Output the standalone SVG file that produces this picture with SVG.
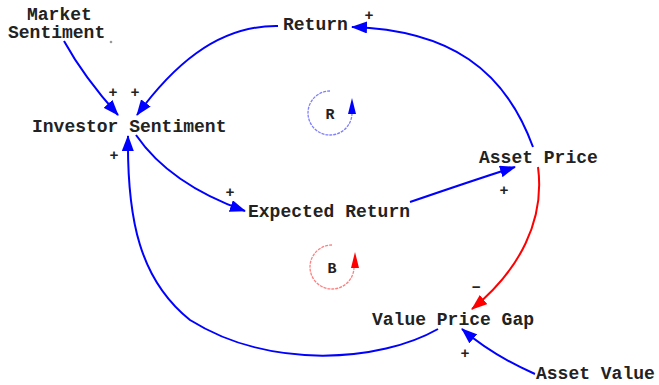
<svg xmlns="http://www.w3.org/2000/svg" width="659" height="385" viewBox="0 0 659 385">
<defs>
<marker id="ab" markerWidth="16" markerHeight="12" refX="15" refY="6" orient="auto" markerUnits="userSpaceOnUse"><path d="M0,0 L16,6 L0,12 z" fill="#0000ff"/></marker>
<marker id="ar" markerWidth="16" markerHeight="12" refX="15" refY="6" orient="auto" markerUnits="userSpaceOnUse"><path d="M0,0 L16,6 L0,12 z" fill="#ff0000"/></marker>
</defs>
<style>
.t{font-family:"Liberation Mono","Courier New",monospace;font-size:18px;font-weight:bold;fill:#222}
.s{font-family:"Liberation Mono","Courier New",monospace;font-size:15px;font-weight:bold;fill:#222;text-anchor:middle}
.c{fill:none;stroke:#0000ff;stroke-width:2}
.cr{fill:none;stroke:#ff0000;stroke-width:2}
</style>
<rect width="659" height="385" fill="#ffffff"/>
<g id="connectors">
<path class="c" d="M64,41 C80,70 100,95 118,115" marker-end="url(#ab)"/>
<path class="c" d="M278,26 C215,25 170,70 137,115" marker-end="url(#ab)"/>
<path class="c" d="M533,147 C505,70 450,30 352,27" marker-end="url(#ab)"/>
<path class="c" d="M136,135 C160,170 200,195 245,211" marker-end="url(#ab)"/>
<path class="c" d="M410,202 C445,190 480,178 515,167" marker-end="url(#ab)"/>
<path class="cr" d="M538,167 C545,220 520,270 472,309" marker-end="url(#ar)"/>
<path class="c" d="M438,329 C380,362 270,370 190,320 C140,280 127,220 128,136" marker-end="url(#ab)"/>
<path class="c" d="M535,374 C510,363 485,349 462,329" marker-end="url(#ab)"/>
</g>
<g id="signs">
<text class="s" x="113" y="97">+</text>
<text class="s" x="135" y="97">+</text>
<text class="s" x="369" y="20">+</text>
<text class="s" x="114" y="160">+</text>
<text class="s" x="230" y="197">+</text>
<text class="s" x="504" y="195">+</text>
<text class="s" x="476" y="292">−</text>
<text class="s" x="465" y="358">+</text>
</g>
<g id="loop-R">
<path d="M330,91 A22,22 0 1 0 352,113" fill="none" stroke="#8080ff" stroke-width="1.3" stroke-dasharray="3,1"/>
<path d="M352,98 L356,114 L348,114 z" fill="#0000ff"/>
<text class="t" x="330" y="119" text-anchor="middle" style="font-size:15px">R</text>
</g>
<g id="loop-B">
<path d="M332,245 A22,22 0 1 0 354,267" fill="none" stroke="#ff8080" stroke-width="1.3" stroke-dasharray="3,1"/>
<path d="M355,252 L359,268 L351,268 z" fill="#ff0000"/>
<text class="t" x="332" y="273" text-anchor="middle" style="font-size:15px">B</text>
</g>
<g id="market-sentiment">
<text class="t" x="27" y="20">Market</text>
<text class="t" x="8" y="38">Sentiment</text>
<circle cx="111" cy="42" r="1.3" fill="#999"/>
</g>
<g id="return"><text class="t" x="283" y="30">Return</text></g>
<g id="investor-sentiment"><text class="t" x="32" y="132">Investor Sentiment</text></g>
<g id="asset-price"><text class="t" x="479" y="163">Asset Price</text></g>
<g id="expected-return"><text class="t" x="248" y="217">Expected Return</text></g>
<g id="value-price-gap"><text class="t" x="372" y="325">Value Price Gap</text></g>
<g id="asset-value"><text class="t" x="536" y="379">Asset Value</text></g>
</svg>
